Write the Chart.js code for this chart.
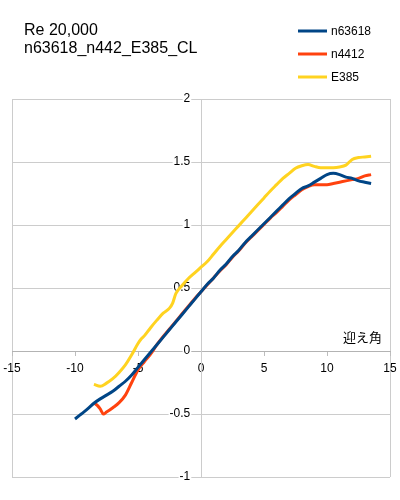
<!DOCTYPE html>
<html>
<head>
<meta charset="utf-8">
<script src="https://cdn.jsdelivr.net/npm/chart.js@4/dist/chart.umd.min.js"></script>
<style>
html,body{margin:0;padding:0;background:#fff;}
#wrap{width:400px;height:500px;}
</style>
</head>
<body>
<div id="wrap"><canvas id="c" width="400" height="500"></canvas></div>
<script>
const titleLines = ["Re 20,000", "n63618_n442_E385_CL"];
const xAxisTitle = "迎え角";
const seriesNames = ["n63618", "n4412", "E385"];
const seriesColors = ["#004586", "#ff420e", "#ffd320"];

const xTicks = [-15, -10, -5, 0, 5, 10, 15];
const yTicks = [-1, -0.5, 0, 0.5, 1, 1.5, 2];

const alphaN63618 = [-10,-9.5,-9,-8.5,-8,-7.5,-7,-6.5,-6,-5.5,-5,-4.5,-4,-3.5,-3,-2.5,-2,-1.5,-1,-0.5,0,0.5,1,1.5,2,2.5,3,3.5,4,4.5,5,5.5,6,6.5,7,7.5,8,8.5,9,9.5,10,10.5,11,11.5,12,12.5,13,13.5];
const clN63618 = [-0.54,-0.50,-0.46,-0.415,-0.38,-0.35,-0.32,-0.28,-0.24,-0.19,-0.13,-0.07,-0.01,0.05,0.11,0.17,0.23,0.29,0.35,0.41,0.47,0.53,0.58,0.64,0.69,0.75,0.80,0.86,0.91,0.96,1.01,1.06,1.11,1.16,1.21,1.25,1.29,1.31,1.34,1.37,1.40,1.41,1.40,1.38,1.37,1.35,1.34,1.33];

const alphaN4412 = [-8.5,-8.25,-8,-7.75,-7.5,-7,-6.5,-6,-5.5,-5,-4.5,-4,-3.5,-3,-2.5,-2,-1.5,-1,-0.5,0,0.5,1,1.5,2,2.5,3,3.5,4,4.5,5,5.5,6,6.5,7,7.5,8,8.5,9,9.5,10,10.5,11,11.5,12,12.5,13,13.5];
const clN4412 = [-0.41,-0.43,-0.46,-0.50,-0.485,-0.45,-0.41,-0.35,-0.25,-0.15,-0.085,-0.025,0.05,0.115,0.175,0.235,0.295,0.355,0.415,0.47,0.525,0.58,0.635,0.685,0.745,0.795,0.855,0.905,0.955,1.005,1.055,1.10,1.15,1.20,1.24,1.28,1.305,1.32,1.32,1.32,1.33,1.34,1.35,1.36,1.37,1.39,1.40];

const alphaE385 = [-8.5,-8,-7.5,-7,-6.5,-6,-5.5,-5,-4.75,-4.5,-4,-3.5,-3,-2.5,-2.25,-2,-1.5,-1,-0.5,0,0.5,1,1.5,2,2.5,3,3.5,4,4.5,5,5.5,6,6.5,7,7.5,8,8.5,9,9.5,10,10.5,11,11.5,12,12.5,13,13.5];
const clE385 = [-0.265,-0.28,-0.255,-0.22,-0.17,-0.11,-0.03,0.06,0.095,0.12,0.185,0.245,0.30,0.34,0.38,0.455,0.52,0.575,0.62,0.665,0.71,0.77,0.83,0.885,0.94,0.995,1.05,1.105,1.16,1.215,1.27,1.32,1.37,1.41,1.45,1.47,1.48,1.465,1.455,1.455,1.455,1.46,1.475,1.52,1.535,1.54,1.545];

function pts(xs, ys){ return xs.map((x,i)=>({x:x, y:ys[i]})); }

const FONT = "'Liberation Sans', Arial, sans-serif";

const overlayPlugin = {
  id: 'overlay',
  afterDraw(chart){
    const ctx = chart.ctx;
    ctx.save();
    ctx.fillStyle = '#000';
    ctx.textBaseline = 'alphabetic';
    ctx.textAlign = 'left';
    ctx.font = "16px " + FONT;
    titleLines.forEach((t,i)=>ctx.fillText(t, 24, 35 + i*18));
    // legend
    ctx.font = "12px " + FONT;
    ctx.textBaseline = 'middle';
    chart.data.datasets.forEach((ds,i)=>{
      const y = 31 + i*23;
      ctx.strokeStyle = ds.borderColor;
      ctx.lineWidth = 3;
      ctx.beginPath(); ctx.moveTo(298,y); ctx.lineTo(327,y); ctx.stroke();
      ctx.fillStyle = '#000';
      ctx.fillText(ds.label, 331, y+1);
    });
    // axis title
    ctx.font = "13px 'Noto Sans CJK JP', sans-serif";
    ctx.textAlign = 'right';
    ctx.fillText(xAxisTitle, 382, 337);
    ctx.restore();
  }
};

new Chart(document.getElementById('c'), {
  type: 'scatter',
  data: {
    datasets: [
      {label: seriesNames[0], data: pts(alphaN63618, clN63618), borderColor: seriesColors[0], backgroundColor: seriesColors[0]},
      {label: seriesNames[1], data: pts(alphaN4412, clN4412), borderColor: seriesColors[1], backgroundColor: seriesColors[1]},
      {label: seriesNames[2], data: pts(alphaE385, clE385), borderColor: seriesColors[2], backgroundColor: seriesColors[2]}
    ]
  },
  options: {
    responsive: false,
    animation: false,
    devicePixelRatio: 1,
    showLine: true,
    elements: {
      point: {radius: 0, hoverRadius: 0},
      line: {borderWidth: 3, tension: 0.3, cubicInterpolationMode: 'monotone'}
    },
    layout: {padding: {left: 12, right: 10, top: 99, bottom: 23}},
    plugins: {legend: {display: false}, title: {display: false}, tooltip: {enabled: false}},
    scales: {
      x: {
        type: 'linear',
        position: {y: 0},
        min: -15, max: 15,
        afterBuildTicks: (s)=>{ s.ticks = xTicks.map(v=>({value:v})); },
        ticks: {color: '#000', font: {family: FONT, size: 12}, padding: 0, maxRotation: 0,
          callback: (v)=>String(v)},
        grid: {
          color: (c)=> (c.tick && (c.tick.value === -15 || c.tick.value === 15)) ? '#cccccc' : 'rgba(0,0,0,0)',
          tickColor: '#bdbdbd',
          tickLength: 10,
          tickBorderDash: [4, 20],
          lineWidth: 1
        },
        border: {color: '#b3b3b3', width: 1}
      },
      y: {
        type: 'linear',
        position: {x: 0},
        min: -1, max: 2,
        afterBuildTicks: (s)=>{ s.ticks = yTicks.map(v=>({value:v})); },
        ticks: {display: false},
        grid: {color: '#cccccc', drawTicks: false, tickLength: 0, lineWidth: 1},
        border: {color: '#cccccc', width: 1}
      },
      yLabels: {
        type: 'linear',
        axis: 'y',
        position: {x: -0.85},
        min: -1, max: 2,
        afterBuildTicks: (s)=>{ s.ticks = yTicks.map(v=>({value:v})); },
        ticks: {
          color: '#000', font: {family: FONT, size: 12}, padding: 0,
          callback: (v)=>String(v),
          showLabelBackdrop: true, backdropColor: '#fff', backdropPadding: 1
        },
        grid: {display: false, drawTicks: false},
        border: {display: false}
      }
    }
  },
  plugins: [overlayPlugin]
});
</script>
</body>
</html>
